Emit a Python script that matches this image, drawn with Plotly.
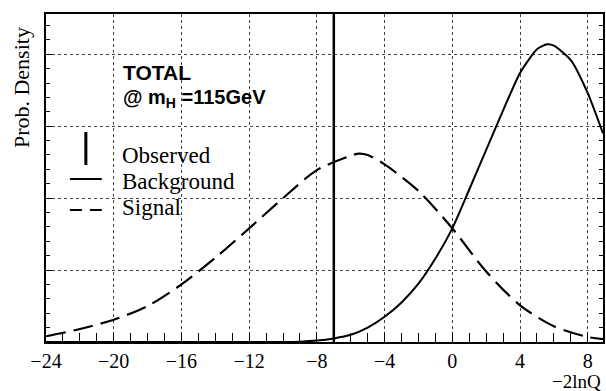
import plotly.graph_objects as go

# Data
bkg_x = [-24, -10, -9, -8, -7, -6, -5, -4, -3, -2, -1, 0, 1, 2, 3, 4, 5, 5.6, 6, 7, 8, 8.9]
bkg_y = [0, 0, 0.005, 0.02, 0.05, 0.1, 0.2, 0.35, 0.55, 0.81, 1.16, 1.58, 2.12, 2.67, 3.22, 3.74, 4.07, 4.14, 4.12, 3.92, 3.46, 2.9]

sig_x = [-24, -22, -20, -18, -16, -14, -12, -10, -8, -6, -5.5, -5, -4, -2, 0, 2, 4, 6, 8, 8.9]
sig_y = [0.08, 0.18, 0.31, 0.5, 0.8, 1.17, 1.58, 2.0, 2.39, 2.59, 2.62, 2.6, 2.47, 2.1, 1.58, 0.98, 0.51, 0.22, 0.07, 0.04]

observed = -7.0
y_top = 4.56
x_ticks = [-24, -20, -16, -12, -8, -4, 0, 4, 8]

SERIF = "Liberation Serif, Times New Roman, serif"
SANS = "Liberation Sans, Arial, sans-serif"

fig = go.Figure()
fig.add_trace(go.Scatter(x=sig_x, y=sig_y, mode="lines",
                         line=dict(color="black", width=2.2, dash="20px,8px", shape="spline", smoothing=0.8),
                         showlegend=False))
fig.add_trace(go.Scatter(x=bkg_x, y=bkg_y, mode="lines",
                         line=dict(color="black", width=2, shape="spline", smoothing=0.6),
                         showlegend=False))
fig.add_trace(go.Scatter(x=[observed, observed], y=[0, y_top], mode="lines",
                         line=dict(color="black", width=2.5), showlegend=False))

fig.update_layout(
    width=606, height=391,
    margin=dict(l=46, r=1, t=14, b=49),
    paper_bgcolor="white", plot_bgcolor="white",
    xaxis=dict(range=[-24, 8.9], tickvals=x_ticks, ticks="inside", ticklen=10, tickcolor="black",
               showline=True, linecolor="black", linewidth=2, mirror=True,
               showgrid=True, gridcolor="#444", griddash="dot", gridwidth=1, zeroline=False,
               tickfont=dict(family=SERIF, size=20, color="black"),
               minor=dict(dtick=1, ticks="inside", ticklen=9, tickcolor="black", showgrid=False)),
    yaxis=dict(range=[0, y_top], dtick=1, ticks="inside", ticklen=6, tickcolor="black",
               showticklabels=False,
               showline=True, linecolor="black", linewidth=2, mirror="ticks",
               showgrid=True, gridcolor="#444", griddash="dot", gridwidth=1, zeroline=False,
               minor=dict(dtick=0.2, ticks="inside", ticklen=4, tickcolor="black", showgrid=False)),
    showlegend=False,
)

def px(x):
    return (x - 46) / 559

def py(y):
    return (342 - y) / 328

ann = [
    dict(text="<b>TOTAL</b>", x=px(121), y=py(72), font=dict(family=SANS, size=21, color="black")),
    dict(text="<b>@ m<sub>H</sub> =115GeV</b>", x=px(121), y=py(98), font=dict(family=SANS, size=20, color="black")),
    dict(text="Observed", x=px(120), y=py(155), font=dict(family=SERIF, size=23, color="black")),
    dict(text="Background", x=px(120), y=py(181), font=dict(family=SERIF, size=23, color="black")),
    dict(text="Signal", x=px(120), y=py(207), font=dict(family=SERIF, size=23, color="black")),
]
for a in ann:
    fig.add_annotation(xref="paper", yref="paper", xanchor="left", yanchor="middle",
                       showarrow=False, **a)

fig.add_annotation(xref="paper", yref="paper", text="−2lnQ", x=1.0, y=py(381),
                   xanchor="right", yanchor="middle", showarrow=False,
                   font=dict(family=SERIF, size=19, color="black"))
fig.add_annotation(xref="paper", yref="paper", text="Prob. Density", x=px(21), y=py(88),
                   xanchor="center", yanchor="middle", textangle=-90, showarrow=False,
                   font=dict(family=SERIF, size=22, color="black"))

# legend glyphs
fig.add_shape(type="line", xref="paper", yref="paper", x0=px(86), x1=px(86), y0=py(165), y1=py(132),
              line=dict(color="black", width=3))
fig.add_shape(type="line", xref="paper", yref="paper", x0=px(70), x1=px(102), y0=py(179), y1=py(179),
              line=dict(color="black", width=2))
fig.add_shape(type="line", xref="paper", yref="paper", x0=px(70), x1=px(102), y0=py(210), y1=py(210),
              line=dict(color="black", width=2.2, dash="12px,8px"))

fig.write_html("out.html")
